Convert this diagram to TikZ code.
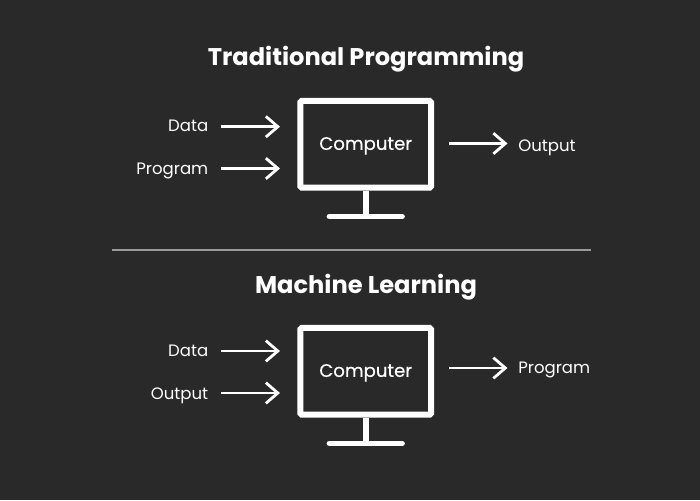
\documentclass[tikz,border=0pt]{standalone}
\usepackage{fontspec}
\setmainfont{Poppins}
\newfontfamily\boxfont[FakeBold=0.35]{Poppins}
\usetikzlibrary{arrows.meta}
\definecolor{bg}{HTML}{292929}
\definecolor{rulec}{HTML}{9A9A9A}
\newcommand{\boxtext}[1]{\raisebox{-4.2pt}[0pt][0pt]{#1}}
\tikzset{x=0.75pt,y=-0.75pt,
 title/.style={text=white,font=\fontsize{18.1}{22}\selectfont\bfseries,inner sep=0,anchor=center},
 lbl/.style={text=white,font=\fontsize{12.4}{14}\selectfont,inner sep=0},
 screen/.style={draw=white,line width=4.5pt,rounded corners=1pt,minimum width=98pt,minimum height=65pt,inner sep=0,text=white,font=\boxfont\fontsize{13.6}{14}\selectfont},
 part/.style={draw=white,line width=4.3pt,line cap=round},
 flow/.style={draw=white,line width=2.1pt,-{Straight Barb[length=9pt,width=15.5pt,line width=2.1pt]}}}
\begin{document}
\begin{tikzpicture}
\useasboundingbox[fill=bg] (0,0) rectangle (700,500);
\node[title] (t1) at (366,59.5) {Traditional Programming};
\node[title] (t2) at (366,287.5) {Machine Learning};
\coordinate (ra) at (112,250); \coordinate (rb) at (591,250);
\draw[rulec,line width=1.4pt] (ra) -- (rb);
% top
\node[screen] (c1) at (365.7,144.3) {\boxtext{Computer}};
\coordinate (s1) at (365.7,216.5); \coordinate (l1) at (329.5,216.5); \coordinate (r1) at (402,216.5);
\draw[part,line cap=butt] (c1.south) -- (s1);
\draw[part] (l1) -- (r1);
\node[lbl,anchor=east] (d1) at (208.5,125.5) {Data};
\node[lbl,anchor=east] (p1) at (208.5,170.5) {Program};
\node[lbl,anchor=west] (o1) at (518,148) {Output};
\coordinate (a1) at (221,126.7); \coordinate (a1e) at (280,126.7);
\coordinate (b1) at (221,168.5); \coordinate (b1e) at (280,168.5);
\coordinate (e1) at (449,143.5); \coordinate (e1e) at (507.5,143.5);
\draw[flow] (a1) -- (a1e);
\draw[flow] (b1) -- (b1e);
\draw[flow] (e1) -- (e1e);
% bottom
\node[screen] (c2) at (365.7,371.3) {\boxtext{Computer}};
\coordinate (s2) at (365.7,443.5); \coordinate (l2) at (329.5,443.5); \coordinate (r2) at (402,443.5);
\draw[part,line cap=butt] (c2.south) -- (s2);
\draw[part] (l2) -- (r2);
\node[lbl,anchor=east] (d2) at (208.5,350.5) {Data};
\node[lbl,anchor=east] (p2) at (208.5,395.5) {Output};
\node[lbl,anchor=west] (o2) at (518,370) {Program};
\coordinate (a2) at (221,351); \coordinate (a2e) at (280,351);
\coordinate (b2) at (221,393); \coordinate (b2e) at (280,393);
\coordinate (e2) at (449,368); \coordinate (e2e) at (507.5,368);
\draw[flow] (a2) -- (a2e);
\draw[flow] (b2) -- (b2e);
\draw[flow] (e2) -- (e2e);
\end{tikzpicture}
\end{document}
